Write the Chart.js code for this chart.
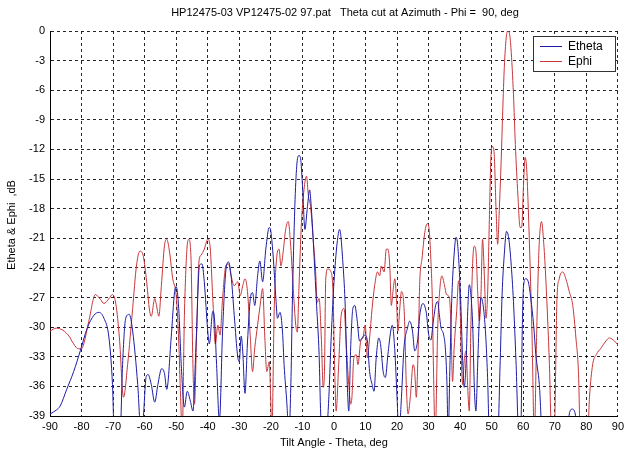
<!DOCTYPE html>
<html>
<head>
<meta charset="utf-8">
<script src="https://cdn.jsdelivr.net/npm/chart.js@4.4.1/dist/chart.umd.min.js"></script>
<style>
html,body{margin:0;padding:0;background:#fff;}
#wrap{position:relative;width:628px;height:452px;}
</style>
</head>
<body>
<div id="wrap"><canvas id="c" width="628" height="452"></canvas></div>
<script>
const chartTitle = "HP12475-03 VP12475-02 97.pat   Theta cut at Azimuth - Phi =  90, deg";
const xAxisTitle = "Tilt Angle - Theta, deg";
const yAxisTitle = "Etheta & Ephi  ,dB";
const seriesNames = ["Etheta", "Ephi"];

// Ephi (red) : angle (deg) and level (dB); values below -39 are off-scale
const ephiAngles = [
 -90,-88,-86,-84,-82.5,-81,-80,-79.3,-77.7,-75.6,
 -74,-72.9,-71.3,-70.2,-69.1,-68,-66.7,-65.4,-63.8,-62.6,
 -61.5,-60.5,-59.5,-58.4,-57.9,-56.8,-56.3,-55.5,-54.7,-53.7,
 -53,-52.1,-51.1,-50,-49.2,-48.6,-48.1,-47.4,-46.6,-46,
 -45.3,-44.7,-44.2,-43.5,-42.8,-42.1,-41.1,-40,-39.3,-38.4,
 -37.6,-36.8,-36.1,-35.3,-34.2,-33.4,-32.6,-31.6,-30.5,-29.7,
 -28.9,-28.2,-27.4,-26.5,-25.8,-25.1,-24.2,-23.4,-22.6,-21.9,
 -21.3,-20.5,-20,-19.7,-18.9,-18.1,-17.4,-16.8,-16,-15.3,
 -14.5,-13.7,-12.9,-12.1,-11.6,-11.1,-10.3,-9.5,-8.7,-8.1,
 -7.4,-6.5,-5.8,-5.3,-4.7,-4,-3.4,-3,-2.6,-1.9,
 -1.1,-0.3,0.2,0.7,1.5,2.3,3.2,3.9,4.7,5.3,
 5.7,6.3,7.1,7.6,8.5,9.2,9.9,10.6,11.3,12.1,
 12.9,13.8,14.5,15,15.9,16.6,17.1,17.7,18.2,18.7,
 19.3,19.8,20.3,20.8,21.4,21.9,22.4,22.9,23.5,24.2,
 25.1,25.6,26.1,26.7,27.2,27.9,28.8,29.6,30.2,30.7,
 31.2,31.5,32.1,32.9,33.6,34.2,35,35.7,36.6,37.1,
 37.6,38.1,38.9,39.5,39.9,40.4,40.8,41.3,41.9,42.4,
 42.9,43.4,44,44.5,45,45.6,46.1,46.6,47.1,47.7,
 48.2,48.7,49.3,49.8,50.3,50.8,51.4,51.9,52.4,53,
 53.5,54,54.6,55.1,55.6,56.1,56.9,57.5,58.3,59,
 59.5,60.1,60.6,61.1,61.6,62.2,62.8,63.5,64.3,65,
 65.8,66.5,67.2,68.3,69,69.8,70.7,71.4,72.5,73.5,
 74.6,75.7,76.7,77.5,78.1,80.4,81,82,83.1,84.7,
 86.2,87.3,88.9,90
];
const ephiValues = [
 -30.4,-30.1,-30.3,-30.9,-31.7,-32.2,-32.2,-31.7,-29.4,-26.7,
 -27.2,-27.6,-27.1,-26.7,-27.7,-31.1,-37.1,-33.8,-28.1,-23.8,
 -22.3,-22.7,-25,-28.4,-28.9,-27.1,-27.7,-28.9,-25.8,-21.7,
 -21.1,-22.4,-25.1,-26.8,-31.4,-37.1,-41,-28.8,-22.1,-21.1,
 -23.1,-33.8,-37.8,-30.4,-23.4,-22.7,-22.1,-21.1,-21.7,-27.1,
 -31.7,-29.8,-30.8,-27.1,-23.7,-23.6,-24.8,-25.8,-25.4,-26.8,
 -25.8,-25.1,-26.4,-31.1,-34.5,-32.1,-29.8,-27.8,-26.1,-31.1,
 -34.5,-33.5,-37.8,-41,-27.8,-22.8,-22.1,-23.8,-22.1,-20.1,
 -19.3,-21.8,-26.1,-29.8,-30.5,-26.1,-19.4,-16.1,-14.7,-16.7,
 -17.8,-21.4,-24.4,-27.5,-27.1,-31.1,-36.1,-34.5,-25.1,-24.1,
 -24.3,-26.4,-33.8,-38.5,-33.8,-28.8,-28.1,-31.8,-35.8,-37.8,
 -37.1,-33.1,-32.8,-33.8,-31.4,-31.1,-29.8,-33.1,-31.1,-28.1,
 -25.8,-24.4,-24.8,-23.8,-24.4,-22.1,-22.1,-23.8,-27.8,-26.4,
 -25.1,-27.1,-30.4,-28.4,-26.4,-26.8,-29.4,-35.5,-38.8,-37.1,
 -33.8,-34.5,-37.1,-32.1,-25.4,-23.1,-20.4,-19.5,-20.2,-23,
 -27.5,-33.4,-41,-30,-26,-24.8,-25.7,-26.7,-27,-30,
 -35.5,-32.1,-28.4,-25.3,-26.7,-33.4,-35.8,-33.4,-32.4,-36.1,
 -38.5,-30,-23.3,-21.8,-22.3,-26.7,-29.4,-26.7,-21.1,-25,
 -29.1,-26.7,-18.6,-12.5,-11.7,-12.5,-18.2,-21.6,-18.2,-13.2,
 -8.1,-3.7,-0.7,0,-0.2,-1.7,-6.4,-11.5,-16.6,-19.9,
 -19.9,-15.5,-12.8,-14,-18,-24,-31,-41,-30,-22,
 -19.3,-21.5,-25.4,-33.8,-41,-41,-27.1,-25.1,-24.4,-25.1,
 -26.4,-27.8,-31.1,-34.5,-41,-41,-37.1,-33.8,-32.8,-32.1,
 -31.4,-31.1,-31.4,-31.8
];

// Etheta (blue)
const ethetaAngles = [
 -90,-88,-86.8,-84.7,-82.5,-80.4,-78.2,-76.1,-74.5,-72.9,
 -71.3,-70.2,-69.6,-67.8,-67,-66,-64.9,-63.8,-62.2,-61.1,
 -60.5,-59.5,-58.9,-57.9,-56.8,-55.8,-54.6,-53.7,-53,-51.6,
 -50.5,-50,-49.2,-48.4,-47.4,-46.5,-45.5,-44.7,-43.7,-42.6,
 -41.8,-41.1,-40,-39.5,-38.4,-37.9,-37.2,-36.3,-35.3,-34.2,
 -33.4,-32.6,-31.6,-30.5,-30,-29.4,-28.9,-28.2,-27.4,-26.5,
 -25.8,-25.1,-24.2,-23.5,-22.6,-21.6,-20.5,-20,-19.2,-18.4,
 -17.9,-17.1,-16.3,-15.8,-14.9,-14.3,-13.6,-13.2,-12.4,-11.8,
 -11.1,-10.5,-9.9,-9.2,-8.4,-7.7,-7.2,-6.3,-5.5,-4.7,
 -4.2,-3.6,-2.5,-1.6,-1,-0.5,0,1,1.8,2.9,
 3.6,4.2,4.7,5.3,6,6.6,7.4,8.1,8.9,9.7,
 10.6,11.3,12.1,12.7,13.4,14.2,14.8,15.6,16.3,17.1,
 18,18.5,19.3,20,20.6,21.4,22.2,23.3,24,24.9,
 25.6,26.5,27.2,28.2,29.3,30,30.7,31.5,32.3,32.9,
 33.4,33.9,34.7,35.3,35.8,36.2,36.8,37.4,38.1,38.7,
 39.2,39.7,40.3,40.8,41.3,41.9,42.4,42.9,43.4,44,
 44.5,45,45.6,46.1,46.6,47.1,47.7,48.2,48.7,49.3,
 51.9,52.7,53.3,54,54.7,55.4,56.1,56.9,57.7,58.6,
 59.3,59.6,60.1,60.8,61.6,62.4,63.3,64,65.1,66.1,
 74,74.6,75.5,76.5,77,90
];
const ethetaValues = [
 -38.8,-38.4,-38,-36.3,-34.5,-32.4,-30.1,-28.8,-28.5,-29.1,
 -31.1,-35.8,-41,-41,-33.8,-29.1,-28.7,-30.4,-35.8,-41,
 -39.5,-35,-34.8,-35.8,-37.6,-35.8,-34.2,-34.7,-36.3,-31.1,
 -26.4,-25.9,-28.1,-33.8,-38.1,-36.5,-37.5,-38.5,-31.6,-23.7,
 -23.6,-25.4,-30.4,-31.7,-28.4,-29,-33.8,-39.5,-30.4,-24.1,
 -23.4,-24.8,-28.8,-33,-33.5,-30.9,-32.5,-36.7,-31.5,-27.1,
 -26.5,-27.8,-24.8,-23.3,-25.4,-22.1,-19.9,-20.3,-23.1,-27.1,
 -29.1,-28.5,-30.5,-33.8,-37.8,-41,-35,-27.8,-17.8,-13.7,
 -12.6,-13.1,-16.1,-20.1,-17.8,-16.1,-17.8,-22.8,-27.8,-32.8,
 -38.8,-41,-41,-37,-32,-28.5,-25.5,-21.5,-20.1,-23.8,
 -28.1,-35.5,-38.5,-32.1,-28.1,-27.8,-29.4,-31.4,-31.1,-30.8,
 -31.4,-34.5,-35.8,-36.5,-33.1,-31.1,-31.8,-34.5,-35.1,-32.8,
 -30.4,-29.8,-32.4,-37.1,-41,-37.1,-32.1,-30.1,-29.4,-30.4,
 -32.4,-31.4,-28.8,-27.6,-28.6,-30.7,-31.3,-29.4,-27.7,-27.4,
 -28.7,-30,-30.7,-32.1,-35.5,-41,-33.4,-26.7,-22.6,-20.9,
 -21.6,-24,-28.4,-33.4,-36.1,-33.4,-28.4,-25.7,-26.7,-30,
 -36.1,-38.5,-33.4,-29,-27,-27.4,-29,-31.4,-35.1,-41,
 -41,-33.4,-26.7,-22.6,-20.3,-21,-23.3,-27.4,-33.4,-41,
 -40,-32,-25.8,-25.1,-25.4,-27.1,-29.8,-32.8,-35.8,-41,
 -41,-38.8,-38.3,-38.8,-41,-41
];

const xTickStep = 10, yTickStep = 3;
const xMin = -90, xMax = 90, yMin = -39, yMax = 0;

const toPoints = (xs, ys) => xs.map((x, i) => ({x: x, y: ys[i]}));

const FONT = "'Liberation Sans', Arial, sans-serif";
const BLUE = '#1c1ca6';
const RED = '#c8363a';

const decor = {
  id: 'decor',
  afterDraw(chart) {
    const ctx = chart.ctx;
    const a = chart.chartArea;
    ctx.save();
    ctx.fillStyle = '#000';
    ctx.font = '11px ' + FONT;
    ctx.textBaseline = 'middle';
    ctx.textAlign = 'center';
    ctx.fillText(chartTitle, 345, 13);
    ctx.fillText(xAxisTitle, (a.left + a.right) / 2, 443);
    ctx.translate(12, 225);
    ctx.rotate(-Math.PI / 2);
    ctx.fillText(yAxisTitle, 0, 0);
    ctx.restore();

    // legend box
    ctx.save();
    const bx = 533.5, by = 36.5, bw = 82, bh = 35;
    ctx.fillStyle = '#fff';
    ctx.fillRect(bx, by, bw, bh);
    ctx.strokeStyle = '#333';
    ctx.lineWidth = 1;
    ctx.strokeRect(bx, by, bw, bh);
    const cols = [BLUE, RED];
    const ys = [46.5, 61.5];
    ctx.font = '12px ' + FONT;
    ctx.textBaseline = 'middle';
    ctx.textAlign = 'left';
    for (let i = 0; i < 2; i++) {
      ctx.strokeStyle = cols[i];
      ctx.beginPath();
      ctx.moveTo(540, ys[i]);
      ctx.lineTo(562, ys[i]);
      ctx.stroke();
      ctx.fillStyle = '#000';
      ctx.fillText(seriesNames[i], 568, ys[i]);
    }
    ctx.restore();
  }
};

new Chart(document.getElementById('c'), {
  type: 'line',
  data: {
    datasets: [
      {label: seriesNames[0], data: toPoints(ethetaAngles, ethetaValues), borderColor: BLUE, borderWidth: 1, pointRadius: 0, cubicInterpolationMode: 'monotone', clip: 0, fill: false},
      {label: seriesNames[1], data: toPoints(ephiAngles, ephiValues), borderColor: RED, borderWidth: 1, pointRadius: 0, cubicInterpolationMode: 'monotone', clip: 0, fill: false}
    ]
  },
  options: {
    responsive: false,
    animation: false,
    events: [],
    layout: {padding: {left: 0, right: 8, top: 31, bottom: 0}},
    plugins: {legend: {display: false}, title: {display: false}, tooltip: {enabled: false}},
    scales: {
      x: {
        type: 'linear', min: xMin, max: xMax,
        ticks: {stepSize: xTickStep, color: '#000', font: {family: FONT, size: 11}, padding: 4, maxRotation: 0, autoSkip: false},
        grid: {color: 'rgba(0,0,0,0.85)', lineWidth: 1, drawTicks: false},
        border: {display: true, color: '#000', width: 1, dash: [3, 3]},
        afterFit: s => { s.height = 36; }
      },
      y: {
        type: 'linear', min: yMin, max: yMax,
        ticks: {stepSize: yTickStep, color: '#000', font: {family: FONT, size: 11}, padding: 5, autoSkip: false},
        grid: {color: 'rgba(0,0,0,0.85)', lineWidth: 1, drawTicks: false},
        border: {display: true, color: '#000', width: 1, dash: [3, 3]},
        afterFit: s => { s.width = 50; }
      }
    }
  },
  plugins: [decor]
});
</script>
</body>
</html>
